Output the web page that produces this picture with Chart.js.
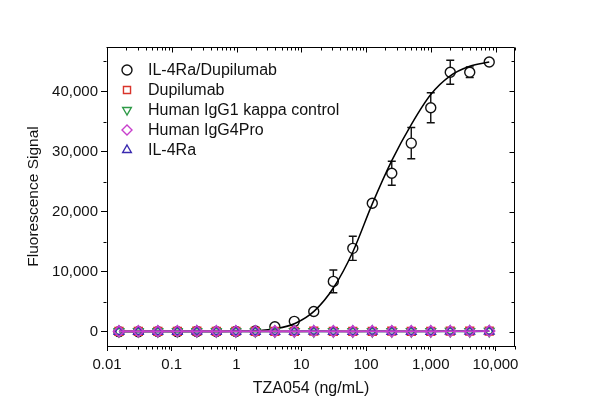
<!DOCTYPE html>
<html>
<head>
<meta charset="utf-8">
<script src="https://cdn.jsdelivr.net/npm/chart.js@4.4.1/dist/chart.umd.min.js"></script>
<style>
  html, body { margin: 0; padding: 0; background: #fff; }
</style>
</head>
<body>
<canvas id="grafico" width="598" height="417"></canvas>
<script>
// concentrações (ng/mL), diluição seriada 1:2
const conc = [0.0153, 0.0305, 0.061, 0.122, 0.244, 0.488, 0.977, 1.95, 3.91, 7.81,
              15.6, 31.3, 62.5, 125, 250, 500, 1000, 2000, 4000, 8000];

const complexo = [40, 30, 50, 40, 60, 50, 80, 150, 850, 1750,
                  3400, 8400, 13900, 21400, 26400, 31400, 37300, 43200, 43200, 44900];
const erroComplexo = [0, 0, 0, 0, 0, 0, 0, 0, 150, 300,
                      300, 1900, 2000, 400, 2000, 2600, 2500, 2000, 900, 300];

const dupilumab = [90, 80, 100, 90, 110, 90, 100, 80, 100, 90,
                   110, 100, 90, 100, 110, 90, 100, 120, 110, 130];
const igg1 = [60, 70, 60, 80, 70, 60, 70, 80, 60, 70,
              80, 70, 60, 80, 70, 80, 70, 90, 80, 100];
const igg4 = [80, 90, 80, 100, 90, 80, 90, 100, 80, 90,
              100, 90, 80, 100, 90, 100, 90, 110, 100, 150];
const il4ra = [70, 60, 80, 70, 90, 70, 80, 60, 70, 80,
               90, 80, 70, 90, 80, 70, 80, 100, 90, 120];

// curva ajustada
const curvaX = [0.0153, 0.1, 0.5, 1, 2, 4, 8, 16, 31.3, 62.5, 125, 250, 500, 1000, 2000, 4000, 8000];
const curvaY = [60, 60, 70, 90, 180, 520, 1400, 3500, 7300, 13300, 21300, 28500, 34500, 39500, 42600, 44200, 44900];

const xTicks = [0.01, 0.1, 1, 10, 100, 1000, 10000];
const yTicks = [0, 10000, 20000, 30000, 40000];
const yMinor = [5000, 15000, 25000, 35000, 45000];

const fonte = "Arial, 'Liberation Sans', sans-serif";
const pares = (xs, ys) => xs.map((x, i) => ({ x: x, y: ys[i] }));

// menores do log: 2..9 de cada década
const xMinor = [];
for (let d = 0.01; d < 20000; d *= 10) {
  for (let m = 2; m <= 9; m++) {
    const v = +(d * m).toPrecision(3);
    if (v <= 20000) xMinor.push(v);
  }
}

const barrasErro = {
  id: 'barrasErro',
  beforeDatasetsDraw(chart) {
    const { ctx, scales: { x, y } } = chart;
    ctx.save();
    ctx.strokeStyle = '#111';
    ctx.lineWidth = 1.4;
    conc.forEach((c, i) => {
      const e = erroComplexo[i];
      if (!e) return;
      const px = x.getPixelForValue(c);
      const y1 = y.getPixelForValue(complexo[i] + e);
      const y2 = y.getPixelForValue(complexo[i] - e);
      ctx.beginPath();
      ctx.moveTo(px, y1); ctx.lineTo(px, y2);
      ctx.moveTo(px - 4, y1); ctx.lineTo(px + 4, y1);
      ctx.moveTo(px - 4, y2); ctx.lineTo(px + 4, y2);
      ctx.stroke();
    });
    ctx.restore();
  }
};

const moldura = {
  id: 'moldura',
  afterDraw(chart) {
    const { ctx, chartArea: a, scales: { x, y } } = chart;
    const top = Math.round(a.top) + 0.5;
    const right = Math.round(a.right) - 0.5;
    const left = Math.round(a.left) - 0.5;
    const bottom = Math.round(a.bottom) + 0.5;
    ctx.save();
    ctx.strokeStyle = '#000';
    ctx.lineWidth = 1;
    ctx.beginPath();
    ctx.moveTo(left, top); ctx.lineTo(right, top); ctx.lineTo(right, bottom);
    // topo: ticks para dentro
    xTicks.forEach(v => {
      const p = Math.round(x.getPixelForValue(v)) + 0.5;
      ctx.moveTo(p, top); ctx.lineTo(p, top + 5);
    });
    xMinor.forEach(v => {
      const p = Math.round(x.getPixelForValue(v)) + 0.5;
      ctx.moveTo(p, top); ctx.lineTo(p, top + 3);
      ctx.moveTo(p, bottom); ctx.lineTo(p, bottom + 3);
    });
    // direita: ticks para dentro
    yTicks.forEach(v => {
      const p = Math.round(y.getPixelForValue(v)) + 0.5;
      ctx.moveTo(right, p); ctx.lineTo(right - 5, p);
    });
    yMinor.forEach(v => {
      const p = Math.round(y.getPixelForValue(v)) + 0.5;
      ctx.moveTo(right, p); ctx.lineTo(right - 3, p);
      ctx.moveTo(left, p); ctx.lineTo(left - 3, p);
    });
    ctx.stroke();
    ctx.restore();
  }
};

const legenda = {
  id: 'legenda',
  afterDraw(chart) {
    const { ctx, chartArea: a } = chart;
    ctx.save();
    ctx.font = '16px ' + fonte;
    ctx.textBaseline = 'middle';
    let i = 0;
    chart.data.datasets.forEach(ds => {
      if (ds.semLegenda) return;
      const cy = a.top + 23 + i * 20;
      const cx = a.left + 20;
      ctx.strokeStyle = ds.pointBorderColor;
      ctx.fillStyle = 'rgba(255,255,255,0)';
      ctx.lineWidth = 1.4;
      Chart.helpers.drawPoint(ctx, {
        pointStyle: ds.pointStyle, rotation: ds.pointRotation || 0,
        radius: 5, borderWidth: 1.4
      }, cx, cy);
      ctx.fillStyle = '#111';
      ctx.fillText(ds.label, a.left + 41, cy + 1);
      i++;
    });
    ctx.restore();
  }
};

function serieBase(label, dados, cor, estilo, rot, ordem) {
  return {
    label: label,
    data: pares(conc, dados),
    borderColor: cor,
    borderWidth: 1.6,
    pointStyle: estilo,
    pointRotation: rot,
    pointRadius: 5.5,
    pointBorderColor: cor,
    pointBackgroundColor: 'rgba(255,255,255,0)',
    pointBorderWidth: 1.5,
    tension: 0,
    order: ordem
  };
}

const ctx = document.getElementById('grafico');
const grafico = new Chart(ctx, {
  type: 'line',
  data: {
    datasets: [
      {
        label: 'IL-4Ra/Dupilumab',
        data: pares(conc, complexo),
        showLine: false,
        pointStyle: 'circle',
        pointRadius: 5,
        pointBorderColor: '#111',
        pointBackgroundColor: '#fff',
        pointBorderWidth: 1.4,
        order: 7
      },
      serieBase('Dupilumab', dupilumab, '#d9342b', 'rect', 0, 5),
      serieBase('Human IgG1 kappa control', igg1, '#2e9a47', 'triangle', 180, 4),
      serieBase('Human IgG4Pro', igg4, '#c83fcc', 'rectRot', 0, 2),
      serieBase('IL-4Ra', il4ra, '#3a2ab0', 'triangle', 0, 3),
      {
        label: 'ajuste',
        semLegenda: true,
        data: pares(curvaX, curvaY),
        borderColor: '#000',
        borderWidth: 1.5,
        pointRadius: 0,
        cubicInterpolationMode: 'monotone',
        order: 6
      }
    ]
  },
  options: {
    responsive: false,
    animation: false,
    layout: { padding: { top: 47, right: 83, left: 0, bottom: 0 } },
    plugins: {
      legend: { display: false },
      tooltip: { enabled: false }
    },
    scales: {
      x: {
        type: 'logarithmic',
        min: 0.01,
        max: 20000,
        afterBuildTicks: s => { s.ticks = xTicks.map(v => ({ value: v })); },
        afterFit: s => { s.height = 71; },
        border: { display: true, color: '#000', width: 1 },
        grid: { drawOnChartArea: false, drawTicks: true, tickLength: 5, color: '#000' },
        ticks: {
          autoSkip: false,
          maxRotation: 0,
          padding: 5,
          color: '#111',
          font: { family: fonte, size: 15 },
          callback: v => v >= 1 ? v.toLocaleString('en-US') : String(v)
        },
        title: {
          display: true,
          text: 'TZA054 (ng/mL)',
          color: '#111',
          font: { family: fonte, size: 16 },
          padding: { top: 0, bottom: 19 }
        }
      },
      y: {
        type: 'linear',
        min: -2350,
        max: 47400,
        afterBuildTicks: s => { s.ticks = yTicks.map(v => ({ value: v })); },
        afterFit: s => { s.width = 107; },
        border: { display: true, color: '#000', width: 1 },
        grid: { drawOnChartArea: false, drawTicks: true, tickLength: 6, color: '#000' },
        ticks: {
          padding: 3,
          color: '#111',
          font: { family: fonte, size: 15 },
          callback: v => v.toLocaleString('en-US')
        },
        title: {
          display: true,
          text: 'Fluorescence Signal',
          color: '#111',
          font: { family: fonte, size: 15.5 },
          padding: { top: 24, bottom: 0 }
        }
      }
    }
  },
  plugins: [barrasErro, moldura, legenda]
});
</script>
</body>
</html>
